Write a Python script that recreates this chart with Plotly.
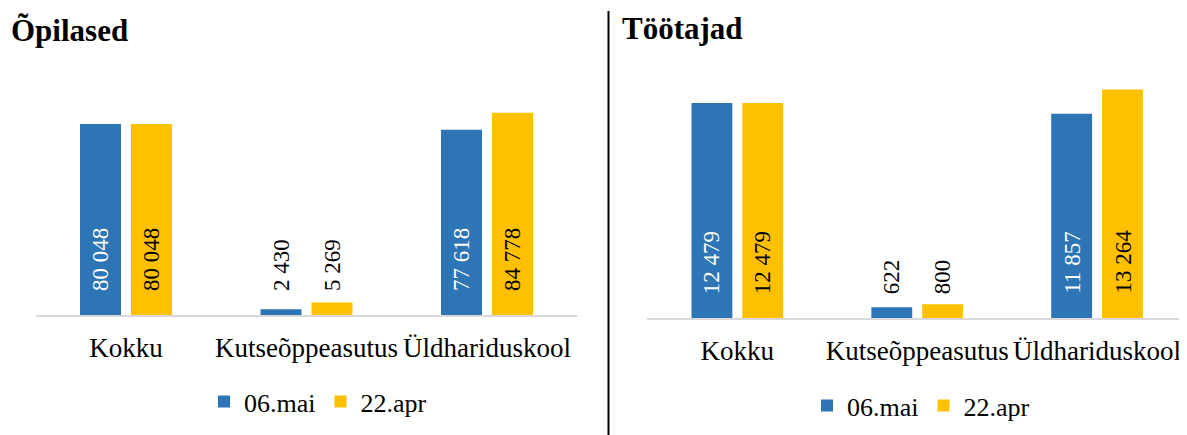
import plotly.graph_objects as go

categories = ["Kokku", "Kutseõppeasutus", "Üldhariduskool"]
series_names = ["06.mai", "22.apr"]
opilased_mai = [80048, 2430, 77618]
opilased_apr = [80048, 5269, 84778]
tootajad_mai = [12479, 622, 11857]
tootajad_apr = [12479, 800, 13264]
panel_titles = ["Õpilased", "Töötajad"]

BLUE = "#2E75B6"
GOLD = "#FFC000"
FONT = "Liberation Serif"
OFF = 8  # page body margin
W, H = 1187 - OFF, 435 - OFF


def px(sx):
    return (sx - OFF) / W


def py(sy):
    return 1 - (sy - OFF) / H


def fmt(v):
    return f"{v:,}".replace(",", " ")


fig = go.Figure()

panels = [
    ("x", "y", "legend", opilased_mai, opilased_apr),
    ("x2", "y2", "legend2", tootajad_mai, tootajad_apr),
]

annotations = []
for xa, ya, lg, mai, apr in panels:
    for name, vals, color in ((series_names[0], mai, BLUE), (series_names[1], apr, GOLD)):
        fig.add_trace(go.Bar(
            x=categories, y=vals, name=name, marker=dict(color=color, line=dict(width=0)),
            xaxis=xa, yaxis=ya, legend=lg, hoverinfo="x+y",
        ))
    ymax = 100000 if xa == "x" else 14000
    for vals, shift, is_blue in ((mai, -25.5, True), (apr, 25.5, False)):
        for cat, v in zip(categories, vals):
            inside = v > ymax * 0.25
            col = "white" if (is_blue and inside) else "black"
            annotations.append(dict(
                x=cat, y=0, xref=xa, yref=ya, xshift=shift, yshift=22,
                text=fmt(v), textangle=-90, showarrow=False,
                xanchor="center", yanchor="bottom",
                font=dict(family=FONT, size=23, color=col),
            ))

# panel titles
annotations.append(dict(x=px(9), y=py(30), xref="paper", yref="paper", text="<b>" + panel_titles[0] + "</b>",
                        showarrow=False, xanchor="left", yanchor="middle",
                        font=dict(family=FONT, size=31, color="black")))
annotations.append(dict(x=px(620), y=py(28), xref="paper", yref="paper", text="<b>" + panel_titles[1] + "</b>",
                        showarrow=False, xanchor="left", yanchor="middle",
                        font=dict(family=FONT, size=31, color="black")))

axis_common = dict(showgrid=False, zeroline=False, showline=True, linecolor="#D9D9D9", linewidth=1.5,
                   ticks="", ticklabelstandoff=8,
                   tickfont=dict(family=FONT, size=27, color="black"), fixedrange=True)
yaxis_common = dict(showgrid=False, zeroline=False, showline=False, showticklabels=False, ticks="",
                    fixedrange=True)

fig.update_layout(
    width=W, height=H,
    margin=dict(l=0, r=0, t=0, b=0),
    paper_bgcolor="white", plot_bgcolor="white",
    bargap=0.435, bargroupgap=0.196, barmode="group",
    xaxis=dict(domain=[px(35.75), px(577.25)], anchor="y", **axis_common),
    xaxis2=dict(domain=[px(647.4), 1.0], anchor="y2", **axis_common),
    yaxis=dict(domain=[py(315), py(76.4)], range=[0, 100000], anchor="x", **yaxis_common),
    yaxis2=dict(domain=[py(318), py(76.8)], range=[0, 14000], anchor="x2", **yaxis_common),
    legend=dict(orientation="h", x=px(318), y=py(401.7), xanchor="center", yanchor="middle",
                font=dict(family=FONT, size=26, color="black"), bgcolor="rgba(0,0,0,0)"),
    legend2=dict(orientation="h", x=px(921), y=py(405.7), xanchor="center", yanchor="middle",
                 font=dict(family=FONT, size=26, color="black"), bgcolor="rgba(0,0,0,0)"),
    annotations=annotations,
    shapes=[dict(type="line", xref="paper", yref="paper", x0=px(608.5), x1=px(608.5),
                 y0=0, y1=py(11), line=dict(color="black", width=2))],
    showlegend=True,
)

fig.write_html("out.html")
